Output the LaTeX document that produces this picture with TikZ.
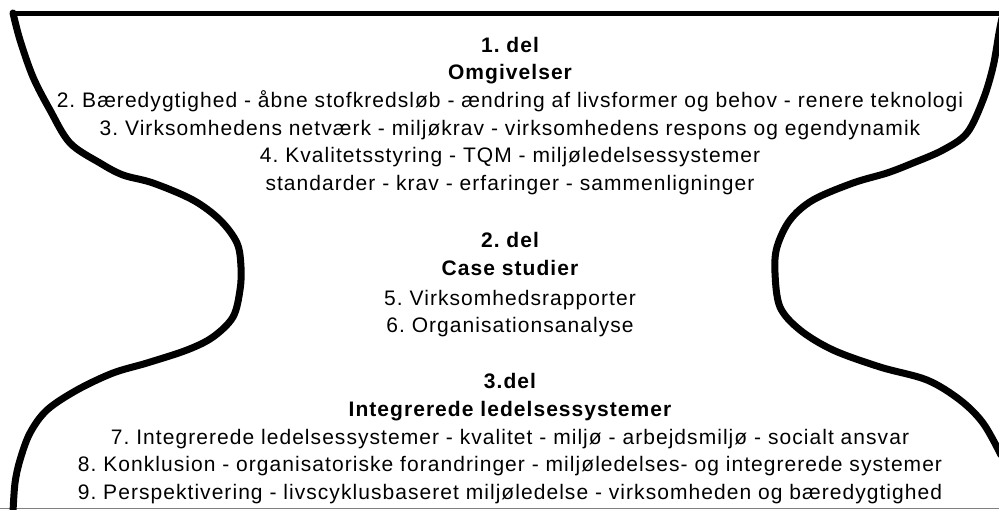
\documentclass[tikz,border=0pt]{standalone}
\usepackage{fontspec}
\setmainfont{Liberation Sans}[LetterSpace=5]
\begin{document}
\frenchspacing
\begin{tikzpicture}[x=1pt,y=-1pt,
  txt/.style={anchor=base,inner sep=0pt,font=\fontsize{21}{24}\selectfont},
  head/.style={txt,font=\fontsize{21}{24}\selectfont\bfseries},
  rim/.style={line width=7pt,line cap=round,line join=round}]
\useasboundingbox (0,0) rectangle (999,509);
\draw[line width=5pt] (12,13.5) -- (1004,13.5);
\draw[gray,line width=1pt] (0,508.5) -- (999,508.5);
\draw[rim] plot[smooth,tension=0.55] coordinates {(13,13) (20,40) (33,77) (50,110) (70,143) (100,163) (123,175) (153,183) (193,200) (220,220) (237,243) (241,267) (240,290) (233,317) (213,337) (187,350) (147,363) (113,373) (77,390) (47,410) (30,433) (20,460) (15,483) (13,512)};
\draw[rim] plot[smooth,tension=0.55] coordinates {(1002,18) (999,33) (993,67) (983,100) (967,133) (943,150) (913,163) (887,173) (853,183) (813,200) (790,220) (777,247) (775,273) (780,307) (800,330) (833,350) (880,367) (927,380) (960,400) (983,423) (1001,455)};
\node[head] (h1) at (510,52) {1. del};
\node[head] (t1) at (510,79) {Omgivelser};
\node[txt] (l2) at (510,107) {2. Bæredygtighed - åbne stofkredsløb - ændring af livsformer og behov - renere teknologi};
\node[txt] (l3) at (510,135) {3. Virksomhedens netværk - miljøkrav - virksomhedens respons og egendynamik};
\node[txt] (l4) at (510,162) {4. Kvalitetsstyring - TQM - miljøledelsessystemer};
\node[txt] (l4b) at (510,190) {standarder - krav - erfaringer - sammenligninger};
\node[head] (h2) at (510,247) {2. del};
\node[head] (t2) at (510,275) {Case studier};
\node[txt] (l5) at (510,305) {5. Virksomhedsrapporter};
\node[txt] (l6) at (510,332) {6. Organisationsanalyse};
\node[head] (h3) at (510,388) {3.del};
\node[head] (t3) at (510,416) {Integrerede ledelsessystemer};
\node[txt] (l7) at (510,444) {7. Integrerede ledelsessystemer - kvalitet - miljø - arbejdsmiljø - socialt ansvar};
\node[txt] (l8) at (510,471) {8. Konklusion - organisatoriske forandringer - miljøledelses- og integrerede systemer};
\node[txt] (l9) at (510,499) {9. Perspektivering - livscyklusbaseret miljøledelse - virksomheden og bæredygtighed};
\end{tikzpicture}
\end{document}
